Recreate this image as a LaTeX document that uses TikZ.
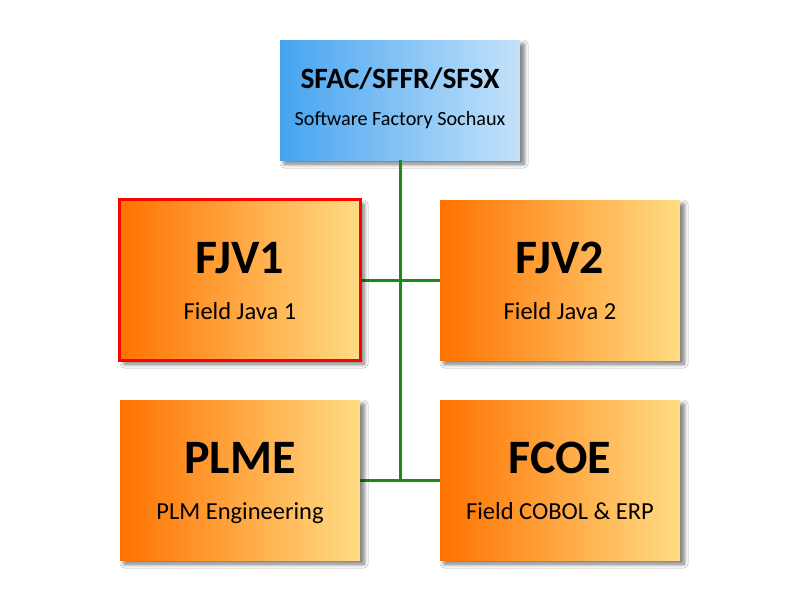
\documentclass[tikz,border=0pt]{standalone}
\usepackage{fontspec}
\setmainfont{Carlito}
\usetikzlibrary{shadows.blur}
\definecolor{orangeL}{RGB}{255,114,0}
\definecolor{orangeR}{RGB}{255,220,132}
\definecolor{blueL}{RGB}{70,164,240}
\definecolor{blueR}{RGB}{196,226,250}
\definecolor{linkgreen}{RGB}{26,138,26}
\definecolor{framered}{RGB}{255,0,0}
\tikzset{
  unitbox/.style={rectangle, draw=none, inner sep=0pt,
    minimum width=240pt, minimum height=160pt,
    left color=orangeL, right color=orangeR,
    blur shadow={shadow xshift=4pt, shadow yshift=-4pt, shadow blur steps=6, shadow opacity=55, shadow blur radius=4pt}},
  headbox/.style={unitbox, minimum height=120pt, left color=blueL, right color=blueR},
  bigname/.style={anchor=base, inner sep=0pt, font=\bfseries\fontsize{48}{48}\selectfont},
  headname/.style={anchor=base, inner sep=0pt, font=\bfseries\fontsize{29.5}{30}\selectfont},
  subname/.style={anchor=base, inner sep=0pt, font=\fontsize{24.5}{25}\selectfont},
  headsub/.style={anchor=base, inner sep=0pt, font=\fontsize{20.2}{21}\selectfont},
  link/.style={draw=linkgreen, line width=3pt}
}
\begin{document}
\begin{tikzpicture}[x=1pt, y=-1pt]
  \fill[white] (0,0) rectangle (800,600);
  \useasboundingbox (0,0) rectangle (800,600);

  % connectors
  \coordinate (joint) at (400,480);
  \node[headbox] (head) at (400,100) {};
  \draw[link] (head.south) -- (joint);
  \draw[link] (360,280) -- (440,280);
  \draw[link] (360,480) -- (440,480);

  % boxes
  \node[unitbox] (fjv1) at (240,280) {};
  \node[unitbox] (fjv2) at (560,280) {};
  \node[unitbox] (plme) at (240,480) {};
  \node[unitbox] (fcoe) at (560,480) {};
  \draw[framered, line width=3.2pt] (fjv1.north west) rectangle (fjv1.south east);

  % labels
  \node[headname] (headT) at (400,88) {SFAC/SFFR/SFSX};
  \node[headsub]  (headS) at (400,125) {Software Factory Sochaux};
  \node[bigname] (fjv1T) at (240,273) {FJV1};
  \node[subname] (fjv1S) at (240,319) {Field Java 1};
  \node[bigname] (fjv2T) at (560,273) {FJV2};
  \node[subname] (fjv2S) at (560,319) {Field Java 2};
  \node[bigname] (plmeT) at (240,473) {PLME};
  \node[subname] (plmeS) at (240,519) {PLM Engineering};
  \node[bigname] (fcoeT) at (560,473) {FCOE};
  \node[subname] (fcoeS) at (560,519) {Field COBOL \& ERP};
\end{tikzpicture}
\end{document}
